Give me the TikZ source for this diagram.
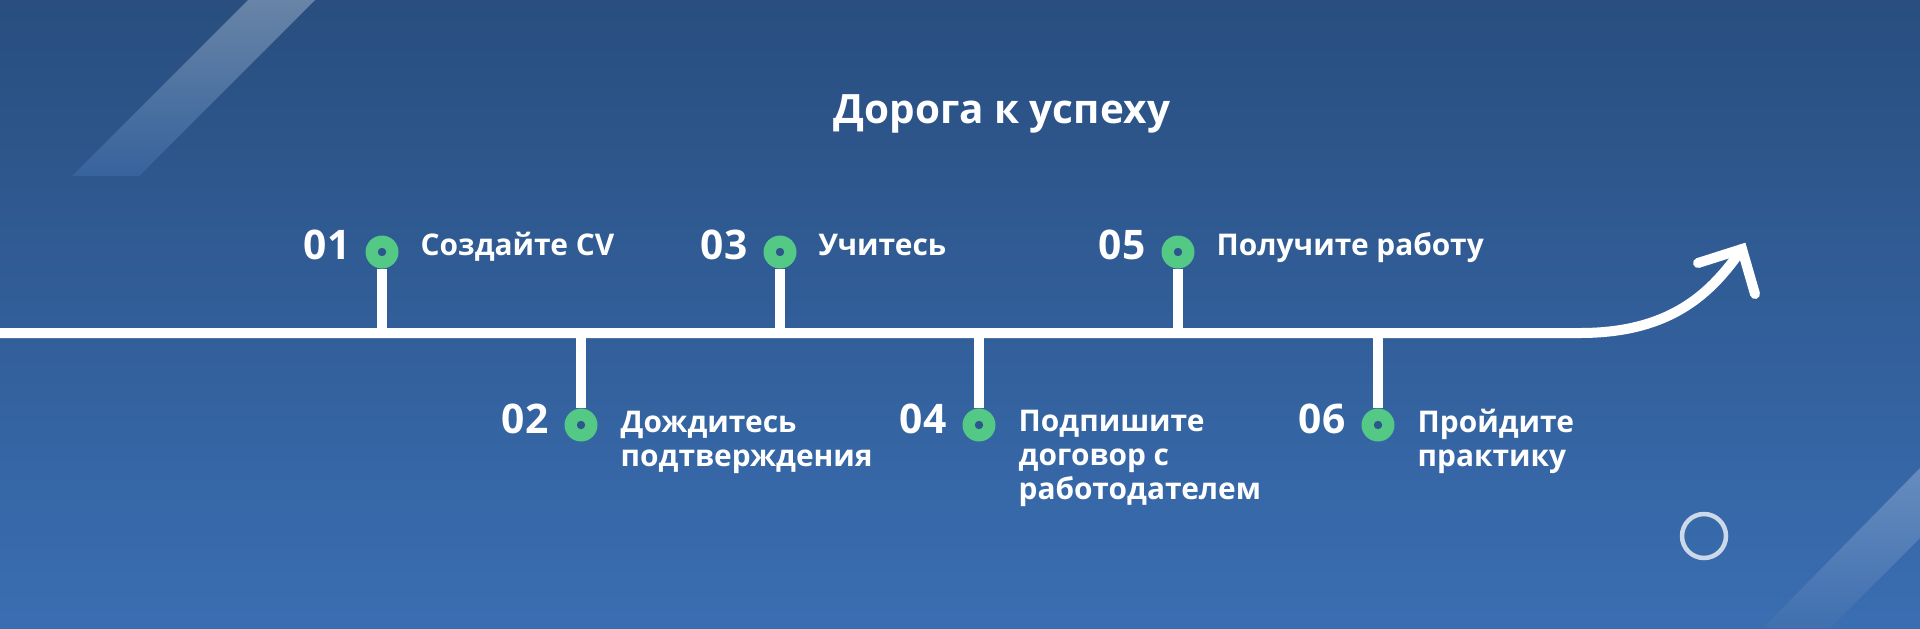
\documentclass[tikz,border=0pt]{standalone}
\usepackage{fontspec}
\setmainfont{Open Sans}
\definecolor{bgtop}{RGB}{41,78,127}
\definecolor{bgbot}{RGB}{58,110,178}
\definecolor{mint}{RGB}{84,201,133}
\definecolor{pit}{RGB}{44,86,142}
\definecolor{bandhi}{RGB}{104,132,166}
\definecolor{bandlo}{RGB}{55,99,157}
\definecolor{bandhiB}{RGB}{102,140,190}
\definecolor{bandloB}{RGB}{64,112,176}
\tikzset{
  road/.style={white, line width=1mm, line cap=round},
  stem/.style={white, line width=1mm},
  dot/.style={circle, fill=mint, minimum size=3.3mm, inner sep=0pt,
    path picture={\fill[pit] (path picture bounding box.center) circle (0.42mm);}},
  num/.style={anchor=base east, text=white, inner sep=0pt, font=\bfseries\fontsize{11.6}{13}\selectfont},
  lbl/.style={anchor=base west, align=left, text=white, inner sep=0pt, font=\bfseries\fontsize{8.5}{9.6}\selectfont}
}
\begin{document}
\begin{tikzpicture}[x=0.1mm, y=-0.1mm]
    \useasboundingbox (0,0) rectangle (1920,628);
    \shade[top color=bgtop, bottom color=bgbot] (0,0) rectangle (1920,628);
    \clip (0,0) rectangle (1920,628);

    \shade[top color=bandhi, bottom color=bandlo] (72,176) -- (248,0) -- (315,0) -- (139,176) -- cycle;
    \shade[top color=bandhiB, bottom color=bandloB] (1763,628) -- (1920,468) -- (1920,538) -- (1830,628) -- cycle;
    \draw[white, opacity=0.75, line width=0.45mm] (1704,536) circle (2.2mm);

    \node[anchor=base, text=white, font=\bfseries\fontsize{11.5}{14}\selectfont] (title) at (1002,123) {Дорога к успеху};

    \coordinate (start) at (-20,333);
    \coordinate (bend) at (1580,333);
    \coordinate (tip) at (1742,249);
    \coordinate (armA) at (1698,263);
    \coordinate (armB) at (1755,294);
    \draw[road] (start) -- (bend) .. controls (1672,333) and (1712,292) .. (tip);
    \draw[road] (armA) -- (tip) -- (armB);

    \coordinate (s1) at (382,333);
    \coordinate (s2) at (581,333);
    \coordinate (s3) at (780,333);
    \coordinate (s4) at (979,333);
    \coordinate (s5) at (1178,333);
    \coordinate (s6) at (1378,333);

    \node[dot] (d1) at (382,252) {};
    \node[dot] (d2) at (581,425) {};
    \node[dot] (d3) at (780,252) {};
    \node[dot] (d4) at (979,425) {};
    \node[dot] (d5) at (1178,252) {};
    \node[dot] (d6) at (1378,425) {};

    \draw[stem] (s1) -- (d1.south);
    \draw[stem] (s2) -- (d2.north);
    \draw[stem] (s3) -- (d3.south);
    \draw[stem] (s4) -- (d4.north);
    \draw[stem] (s5) -- (d5.south);
    \draw[stem] (s6) -- (d6.north);

    \node[num] (n1) at (351,259) {01};
    \node[num] (n2) at (549,433) {02};
    \node[num] (n3) at (748,259) {03};
    \node[num] (n4) at (947,433) {04};
    \node[num] (n5) at (1146,259) {05};
    \node[num] (n6) at (1346,433) {06};

    \node[lbl] (l1) at (420,255) {Создайте CV};
    \node[lbl] (l2) at (620,466) {Дождитесь\\подтверждения};
    \node[lbl] (l3) at (818,255) {Учитесь};
    \node[lbl] (l4) at (1018,499) {Подпишите\\договор с\\работодателем};
    \node[lbl] (l5) at (1216,255) {Получите работу};
    \node[lbl] (l6) at (1417,466) {Пройдите\\практику};
\end{tikzpicture}
\end{document}
